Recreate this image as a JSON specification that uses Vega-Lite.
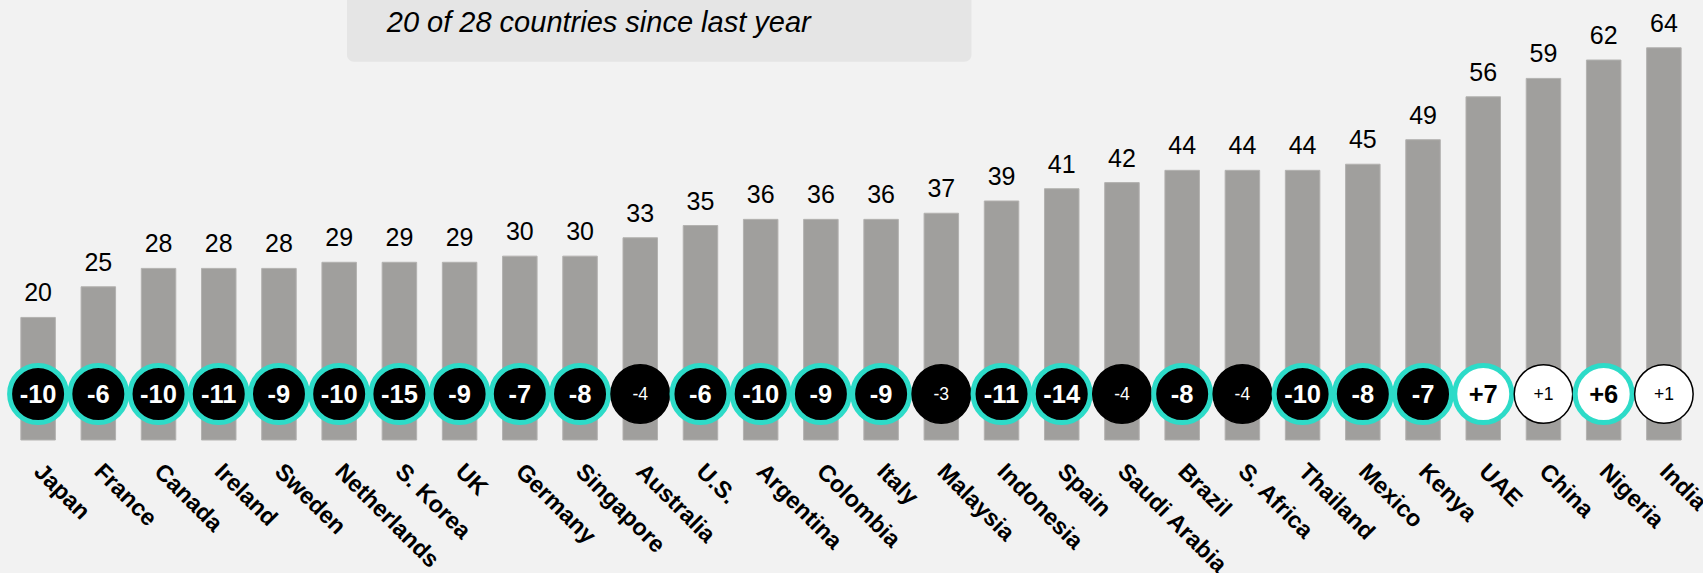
{
  "$schema": "https://vega.github.io/schema/vega-lite/v6.json",
  "autosize": {"type": "none"},
  "padding": {"left": 8, "top": 11, "right": 9, "bottom": 133},
  "width": 1686,
  "height": 429,
  "background": "#f2f2f2",
  "config": {
    "view": {"stroke": null},
    "font": "Liberation Sans"
  },
  "datasets": {
    "countries": [
      {"country": "Japan", "value": 20, "change": -10, "label": "-10", "sig": true},
      {"country": "France", "value": 25, "change": -6, "label": "-6", "sig": true},
      {"country": "Canada", "value": 28, "change": -10, "label": "-10", "sig": true},
      {"country": "Ireland", "value": 28, "change": -11, "label": "-11", "sig": true},
      {"country": "Sweden", "value": 28, "change": -9, "label": "-9", "sig": true},
      {"country": "Netherlands", "value": 29, "change": -10, "label": "-10", "sig": true},
      {"country": "S. Korea", "value": 29, "change": -15, "label": "-15", "sig": true},
      {"country": "UK", "value": 29, "change": -9, "label": "-9", "sig": true},
      {"country": "Germany", "value": 30, "change": -7, "label": "-7", "sig": true},
      {"country": "Singapore", "value": 30, "change": -8, "label": "-8", "sig": true},
      {"country": "Australia", "value": 33, "change": -4, "label": "-4", "sig": false},
      {"country": "U.S.", "value": 35, "change": -6, "label": "-6", "sig": true},
      {"country": "Argentina", "value": 36, "change": -10, "label": "-10", "sig": true},
      {"country": "Colombia", "value": 36, "change": -9, "label": "-9", "sig": true},
      {"country": "Italy", "value": 36, "change": -9, "label": "-9", "sig": true},
      {"country": "Malaysia", "value": 37, "change": -3, "label": "-3", "sig": false},
      {"country": "Indonesia", "value": 39, "change": -11, "label": "-11", "sig": true},
      {"country": "Spain", "value": 41, "change": -14, "label": "-14", "sig": true},
      {"country": "Saudi Arabia", "value": 42, "change": -4, "label": "-4", "sig": false},
      {"country": "Brazil", "value": 44, "change": -8, "label": "-8", "sig": true},
      {"country": "S. Africa", "value": 44, "change": -4, "label": "-4", "sig": false},
      {"country": "Thailand", "value": 44, "change": -10, "label": "-10", "sig": true},
      {"country": "Mexico", "value": 45, "change": -8, "label": "-8", "sig": true},
      {"country": "Kenya", "value": 49, "change": -7, "label": "-7", "sig": true},
      {"country": "UAE", "value": 56, "change": 7, "label": "+7", "sig": true},
      {"country": "China", "value": 59, "change": 1, "label": "+1", "sig": false},
      {"country": "Nigeria", "value": 62, "change": 6, "label": "+6", "sig": true},
      {"country": "India", "value": 64, "change": 1, "label": "+1", "sig": false}
    ],
    "note": [
      {"x": 5.63, "x2": 16.0, "y": 61.7, "y2": 80, "tx": 6.29, "ty": 66.6, "text": "20 of 28 countries since last year"}
    ]
  },
  "layer": [
    {
      "data": {"name": "countries"},
      "encoding": {
        "x": {
          "field": "country",
          "type": "nominal",
          "sort": null,
          "scale": {"paddingInner": 0.427, "paddingOuter": 0.2135},
          "axis": {
            "title": null,
            "domain": false,
            "ticks": false,
            "labelAngle": 45,
            "labelAlign": "left",
            "labelBaseline": "top",
            "labelFont": "Liberation Sans",
            "labelFontWeight": "bold",
            "labelFontSize": 23.5,
            "labelColor": "#000000",
            "labelPadding": 19,
            "labelOffset": 8,
            "labelOverlap": false,
            "labelLimit": 400
          }
        }
      },
      "layer": [
        {
          "mark": {"type": "bar", "color": "#a09f9d", "stroke": "#b3b2b0", "strokeWidth": 1},
          "encoding": {
            "y": {
              "field": "value",
              "type": "quantitative",
              "scale": {"domain": [0, 70], "nice": false, "zero": true},
              "axis": null
            }
          }
        },
        {
          "mark": {"type": "text", "dy": -16, "baseline": "alphabetic", "fontSize": 25, "color": "#000000", "font": "Liberation Sans"},
          "encoding": {
            "y": {"field": "value", "type": "quantitative"},
            "text": {"field": "value", "type": "quantitative"}
          }
        },
        {
          "mark": {"type": "point", "shape": "circle", "opacity": 1},
          "encoding": {
            "y": {"datum": 7.5},
            "size": {"condition": {"test": "datum.sig", "value": 3249}, "value": 3422},
            "fill": {"condition": {"test": "datum.change < 0", "value": "#000000"}, "value": "#ffffff"},
            "stroke": {"condition": {"test": "datum.sig", "value": "#2ddbc8"}, "value": "#000000"},
            "strokeWidth": {"condition": {"test": "datum.sig", "value": 5}, "value": 1.5}
          }
        },
        {
          "transform": [{"filter": "datum.sig"}],
          "mark": {"type": "text", "baseline": "middle", "dy": 1, "fontSize": 25.5, "fontWeight": "bold", "font": "Liberation Sans"},
          "encoding": {
            "y": {"datum": 7.5},
            "text": {"field": "label", "type": "nominal"},
            "color": {"condition": {"test": "datum.change < 0", "value": "#ffffff"}, "value": "#000000"}
          }
        },
        {
          "transform": [{"filter": "!datum.sig"}],
          "mark": {"type": "text", "baseline": "middle", "dy": 1, "fontSize": 17.5, "font": "Liberation Sans"},
          "encoding": {
            "y": {"datum": 7.5},
            "text": {"field": "label", "type": "nominal"},
            "color": {"condition": {"test": "datum.change < 0", "value": "#ffffff"}, "value": "#000000"}
          }
        }
      ]
    },
    {
      "data": {"name": "note"},
      "layer": [
        {
          "mark": {"type": "rect", "color": "#e5e5e5", "cornerRadius": 7},
          "encoding": {
            "x": {"field": "x", "type": "quantitative", "scale": {"domain": [0, 28], "nice": false, "zero": false}, "axis": null},
            "x2": {"field": "x2"},
            "y": {"field": "y", "type": "quantitative"},
            "y2": {"field": "y2"}
          }
        },
        {
          "mark": {"type": "text", "align": "left", "baseline": "alphabetic", "fontSize": 29, "fontStyle": "italic", "font": "Liberation Sans", "color": "#000000"},
          "encoding": {
            "x": {"field": "tx", "type": "quantitative"},
            "y": {"field": "ty", "type": "quantitative"},
            "text": {"field": "text", "type": "nominal"}
          }
        }
      ]
    }
  ],
  "resolve": {"scale": {"x": "independent"}}
}
